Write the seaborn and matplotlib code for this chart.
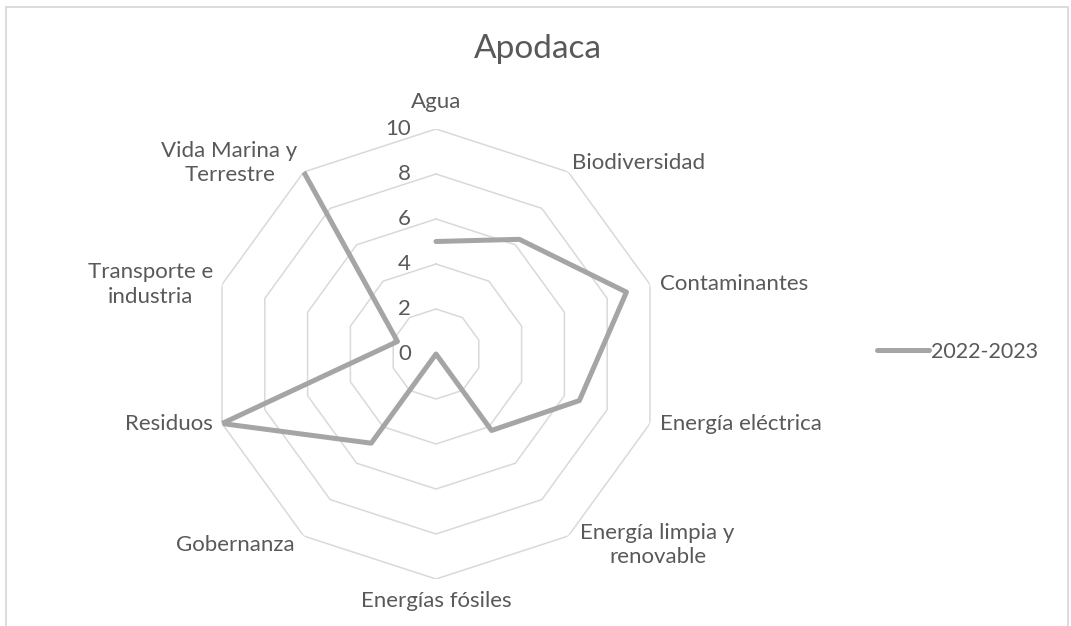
import numpy as np
import matplotlib
matplotlib.use("Agg")
from matplotlib import pyplot as plt
from matplotlib.patches import Rectangle
import matplotlib.transforms as mtransforms
import seaborn as sns

categories = ["Agua", "Biodiversidad", "Contaminantes", "Energía eléctrica",
              "Energía limpia y\nrenovable", "Energías fósiles", "Gobernanza",
              "Residuos", "Transporte e\nindustria", "Vida Marina y\nTerrestre"]
values = [5.0, 6.3, 8.9, 6.7, 4.2, 0.0, 4.9, 10.0, 1.8, 10.0]
series_name = "2022-2023"
r_ticks = [0, 2, 4, 6, 8, 10]
title = "Apodaca"

sns.set_style("white")
plt.rcParams["font.family"] = ["Lato", "DejaVu Sans"]

text_col = "#595959"
grid_col = "#D9D9D9"
line_col = "#A5A5A5"

W, H = 1071, 626
fig = plt.figure(figsize=(W / 100, H / 100), dpi=100)

# polar axes centred on the radar, radius 225 px for r = 10
cx, cy, rad = 436, 354, 225
ax = fig.add_axes([(cx - rad) / W, (H - cy - rad) / H, 2 * rad / W, 2 * rad / H],
                  projection="polar")
ax.set_theta_offset(np.pi / 2)
ax.set_theta_direction(-1)
ax.grid(False)
ax.spines["polar"].set_visible(False)
ax.set_xticks([])
ax.set_yticks([])
ax.set_ylim(0, 10)

n = len(categories)
theta = np.linspace(0, 2 * np.pi, n, endpoint=False)
theta_closed = np.append(theta, theta[0])

# decagon grid rings (no spokes, like excel)
for lvl in r_ticks[1:]:
    ax.plot(theta_closed, [lvl] * (n + 1), color=grid_col, lw=1.1, zorder=1)

# data line
sns.lineplot(x=theta_closed, y=values + values[:1], sort=False, ax=ax,
             color=line_col, lw=3.6, zorder=3, legend=False)
ax.set_xlabel("")
ax.set_ylabel("")

fs = 16

# radial tick labels left of the top spoke
for lvl in r_ticks:
    tr = mtransforms.offset_copy(ax.transData, fig=fig, x=-25, y=0, units="dots")
    ax.text(0, lvl, str(lvl), transform=tr, ha="right", va="center",
            fontsize=fs, color=text_col)

# category labels around the outside
offsets = [(0, 27), (4, 9), (10, 0), (10, 0), (12, -9),
           (0, -22), (-9, -9), (-9, 0), (-9, 0), (-6, 9)]
for t, lab, (dx, dy) in zip(theta, categories, offsets):
    s = np.sin(t)
    ha = "left" if s > 0.1 else ("right" if s < -0.1 else "center")
    tr = mtransforms.offset_copy(ax.transData, fig=fig, x=dx, y=dy, units="dots")
    ax.text(t, 10, lab, transform=tr, ha=ha, va="center", multialignment="center",
            fontsize=fs, color=text_col, clip_on=False, linespacing=1.3)

fig.text(538 / W, 1 - 49 / H, title, ha="center", va="center", fontsize=24,
         color=text_col)

handles = [plt.Line2D([], [], color=line_col, lw=3.6)]
fig.legend(handles, [series_name], loc="center left",
           bbox_to_anchor=(877 / W, 1 - 352 / H), frameon=False,
           borderpad=0, borderaxespad=0, handlelength=2.4, handletextpad=0.1,
           prop={"size": 15.5}, labelcolor=text_col)

# chart border
fig.add_artist(Rectangle((6 / W, -0.05), (1068 - 6) / W, 1.05 - 7 / H,
                         transform=fig.transFigure, fill=False,
                         edgecolor=grid_col, lw=1.3))

fig.savefig("out.png", dpi=100, facecolor="white")
